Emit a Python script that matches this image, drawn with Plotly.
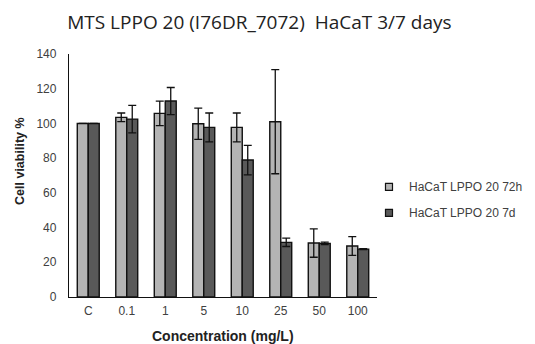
import plotly.graph_objects as go

categories = ["C", "0.1", "1", "5", "10", "25", "50", "100"]
h72_values = [100, 103.5, 105.8, 99.8, 97.7, 101, 31.1, 29.4]
h72_errors = [0, 2.5, 7.1, 9.0, 8.3, 30.0, 8.2, 5.4]
d7_values = [100, 102.5, 112.9, 97.7, 78.9, 31.5, 30.9, 27.6]
d7_errors = [0, 7.9, 7.8, 8.3, 8.5, 2.4, 0.7, 0.3]
series_names = ["HaCaT LPPO 20 72h", "HaCaT LPPO 20 7d"]
y_ticks = [0, 20, 40, 60, 80, 100, 120, 140]
colors = ["#b4b4b4", "#595959"]

fig = go.Figure()
for i, (name, vals, errs) in enumerate([
    (series_names[0], h72_values, h72_errors),
    (series_names[1], d7_values, d7_errors),
]):
    fig.add_trace(go.Bar(
        x=categories, y=vals, name=name, showlegend=False,
        marker=dict(color=colors[i], line=dict(color="#111111", width=1.4)),
        error_y=dict(type="data", array=errs, visible=True, color="#111111",
                     thickness=1.3, width=4),
    ))
# legend entries (small square markers like the reference)
for i, name in enumerate(series_names):
    fig.add_trace(go.Scatter(
        x=[None], y=[None], mode="markers", name=name, legendgroup=name,
        marker=dict(symbol="square", size=7, color=colors[i],
                    line=dict(color="#111111", width=1.2)),
    ))

fig.update_layout(
    width=527, height=336,
    margin=dict(l=61, r=158, t=46, b=47, autoexpand=False),
    paper_bgcolor="white", plot_bgcolor="white",
    barmode="group", bargap=0.43, bargroupgap=0,
    font=dict(family="Liberation Sans, Arial, sans-serif", size=11, color="#404040"),
    title=dict(text="MTS LPPO 20 (I76DR_7072)  HaCaT 3/7 days",
               x=0.477, xref="container", xanchor="center", y=0.958, yref="container",
               yanchor="middle",
               font=dict(family="Open Sans, Liberation Sans, sans-serif", size=19, color="#222222")),
    legend=dict(x=0.974, xanchor="left", y=0.40, yanchor="middle",
                font=dict(size=12, color="#404040"), tracegroupgap=7,
                bgcolor="rgba(0,0,0,0)"),
    showlegend=True,
    annotations=[
        dict(text="<b>Cell viability %</b>", xref="paper", yref="paper",
             x=-0.159, y=0.56, textangle=-90, showarrow=False,
             xanchor="center", yanchor="middle",
             font=dict(size=12.5, color="#222222")),
        dict(text="<b>Concentration (mg/L)</b>", xref="paper", yref="paper",
             x=0.5, y=-0.16, showarrow=False, xanchor="center", yanchor="middle",
             font=dict(size=14, color="#222222")),
    ],
)
fig.update_xaxes(showline=True, linecolor="#111111", linewidth=1.3, ticks="",
                 automargin=False, ticklabelstandoff=2,
                 tickfont=dict(size=12, color="#404040"))
fig.update_yaxes(range=[0, 140], tickvals=y_ticks, showline=True, linecolor="#111111",
                 linewidth=1.3, showgrid=False, zeroline=False, ticks="",
                 automargin=False, ticklabelstandoff=9,
                 tickfont=dict(size=12, color="#404040"))

fig.write_html("out.html")
